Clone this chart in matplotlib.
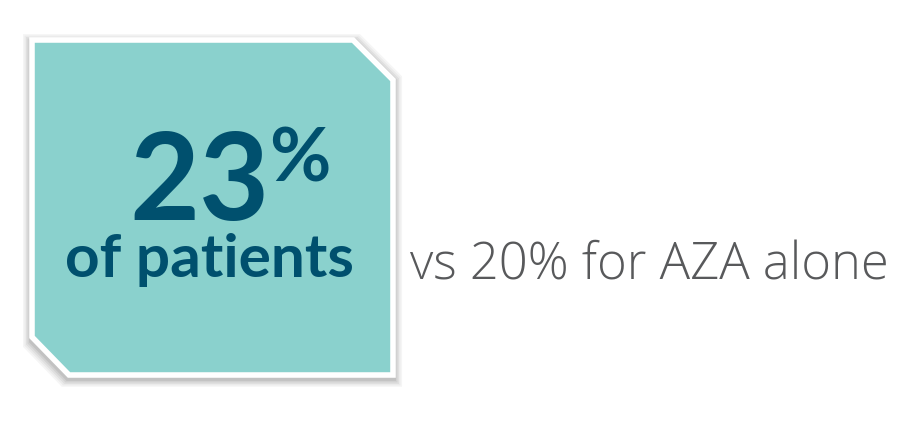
import matplotlib.pyplot as plt
from matplotlib.patches import Polygon

W, H = 923, 421

value = 23
value_label = "of patients"
compare_value = 20
compare_label = "for AZA alone"

teal = "#8ad1cd"
dark = "#00506e"
grey = "#58595b"

fig = plt.figure(figsize=(W / 100, H / 100), dpi=100)
ax = fig.add_axes([0, 0, 1, 1])
ax.set_xlim(0, W)
ax.set_ylim(H, 0)
ax.axis("off")

# box outline: square with two clipped corners
box = [(32, 40), (353, 40), (393, 80), (393, 375), (69, 375), (32, 337)]

# soft shadow
for i, a in enumerate([0.04, 0.04, 0.05, 0.06, 0.07]):
    grow = 9 - i * 1.5
    cx, cy = 212, 208
    pts = [(cx + (x - cx) * (1 + grow / 180), cy + (y - cy) * (1 + grow / 170) + 3) for x, y in box]
    ax.add_patch(Polygon(pts, closed=True, fc="#000000", ec="none", alpha=a))

ax.add_patch(Polygon(box, closed=True, fc=teal, ec="white", lw=4, joinstyle="miter"))

ax.text(129, 220, f"{value}", fontsize=87, fontweight="bold", family="Lato",
        color=dark, ha="left", va="baseline")
ax.text(269, 126, "%", fontsize=54, fontweight="bold", family="Lato",
        color=dark, ha="left", va="top")
ax.text(65, 277, value_label, fontsize=43.5, fontweight="bold", family="Lato",
        color=dark, ha="left", va="baseline")
ax.text(410, 279, f"vs {compare_value}% {compare_label}", fontsize=36.5, fontweight=300,
        family="Open Sans", color=grey, ha="left", va="baseline")

fig.savefig("out.png", dpi=100, facecolor="white")
